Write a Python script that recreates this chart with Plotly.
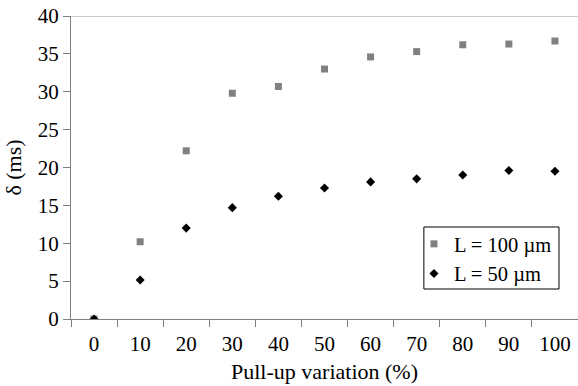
import plotly.graph_objects as go

categories = ["0", "10", "20", "30", "40", "50", "60", "70", "80", "90", "100"]
L100 = [0.0, 10.2, 22.2, 29.8, 30.7, 33.0, 34.6, 35.3, 36.2, 36.3, 36.7]
L50 = [0.0, 5.15, 12.0, 14.7, 16.2, 17.3, 18.1, 18.5, 19.0, 19.6, 19.5]
series_names = ["L = 100 µm", "L = 50 µm"]

FONT = "Times New Roman"

fig = go.Figure()
fig.add_trace(go.Scatter(x=categories, y=L100, mode="markers", name=series_names[0],
                         marker=dict(symbol="square", size=7, color="#808080")))
fig.add_trace(go.Scatter(x=categories, y=L50, mode="markers", name=series_names[1],
                         marker=dict(symbol="diamond", size=7, color="#000000")))

# top line at y = 40
fig.add_shape(type="line", xref="paper", yref="y", x0=0, x1=1, y0=40, y1=40,
              line=dict(color="#b8b8b8", width=1.5))
# legend frame
fig.add_shape(type="rect", xref="paper", yref="paper", x0=0.696, x1=0.9625,
              y0=0.099, y1=0.3036, line=dict(color="#000000", width=1),
              fillcolor="rgba(0,0,0,0)", layer="above")

fig.update_layout(
    template="none",
    width=578, height=386,
    margin=dict(l=71, r=0, t=16, b=67, autoexpand=False),
    paper_bgcolor="white", plot_bgcolor="white",
    font=dict(family=FONT, size=20, color="#000000"),
    showlegend=True,
    legend=dict(x=0.6765, y=0.3135, xanchor="left", yanchor="top",
                borderwidth=0, bgcolor="rgba(0,0,0,0)",
                font=dict(family=FONT, size=20.5), itemsizing="trace",
                tracegroupgap=0, itemwidth=30),
    xaxis=dict(type="category", tickson="boundaries", ticks="outside", ticklen=7,
               tickcolor="#808080", showline=True, linecolor="#808080", linewidth=1,
               showgrid=False, zeroline=False, range=[-0.5, 10.5], automargin=False,
               ticklabeloverflow="allow", ticklabelstandoff=6,
               title=dict(text="Pull-up variation (%)",
                          font=dict(family=FONT, size=22), standoff=8),
               tickfont=dict(family=FONT, size=21)),
    yaxis=dict(range=[0, 40], dtick=5, ticks="outside", ticklen=7, tickcolor="#808080",
               showline=True, linecolor="#808080", linewidth=1, showgrid=False,
               zeroline=False, automargin=False, ticklabeloverflow="allow",
               title=dict(text="δ (ms)", font=dict(family=FONT, size=22), standoff=10),
               tickfont=dict(family=FONT, size=21)),
)

fig.write_html("out.html", config={"displayModeBar": False},
               post_script="document.body.style.margin='0px';")
